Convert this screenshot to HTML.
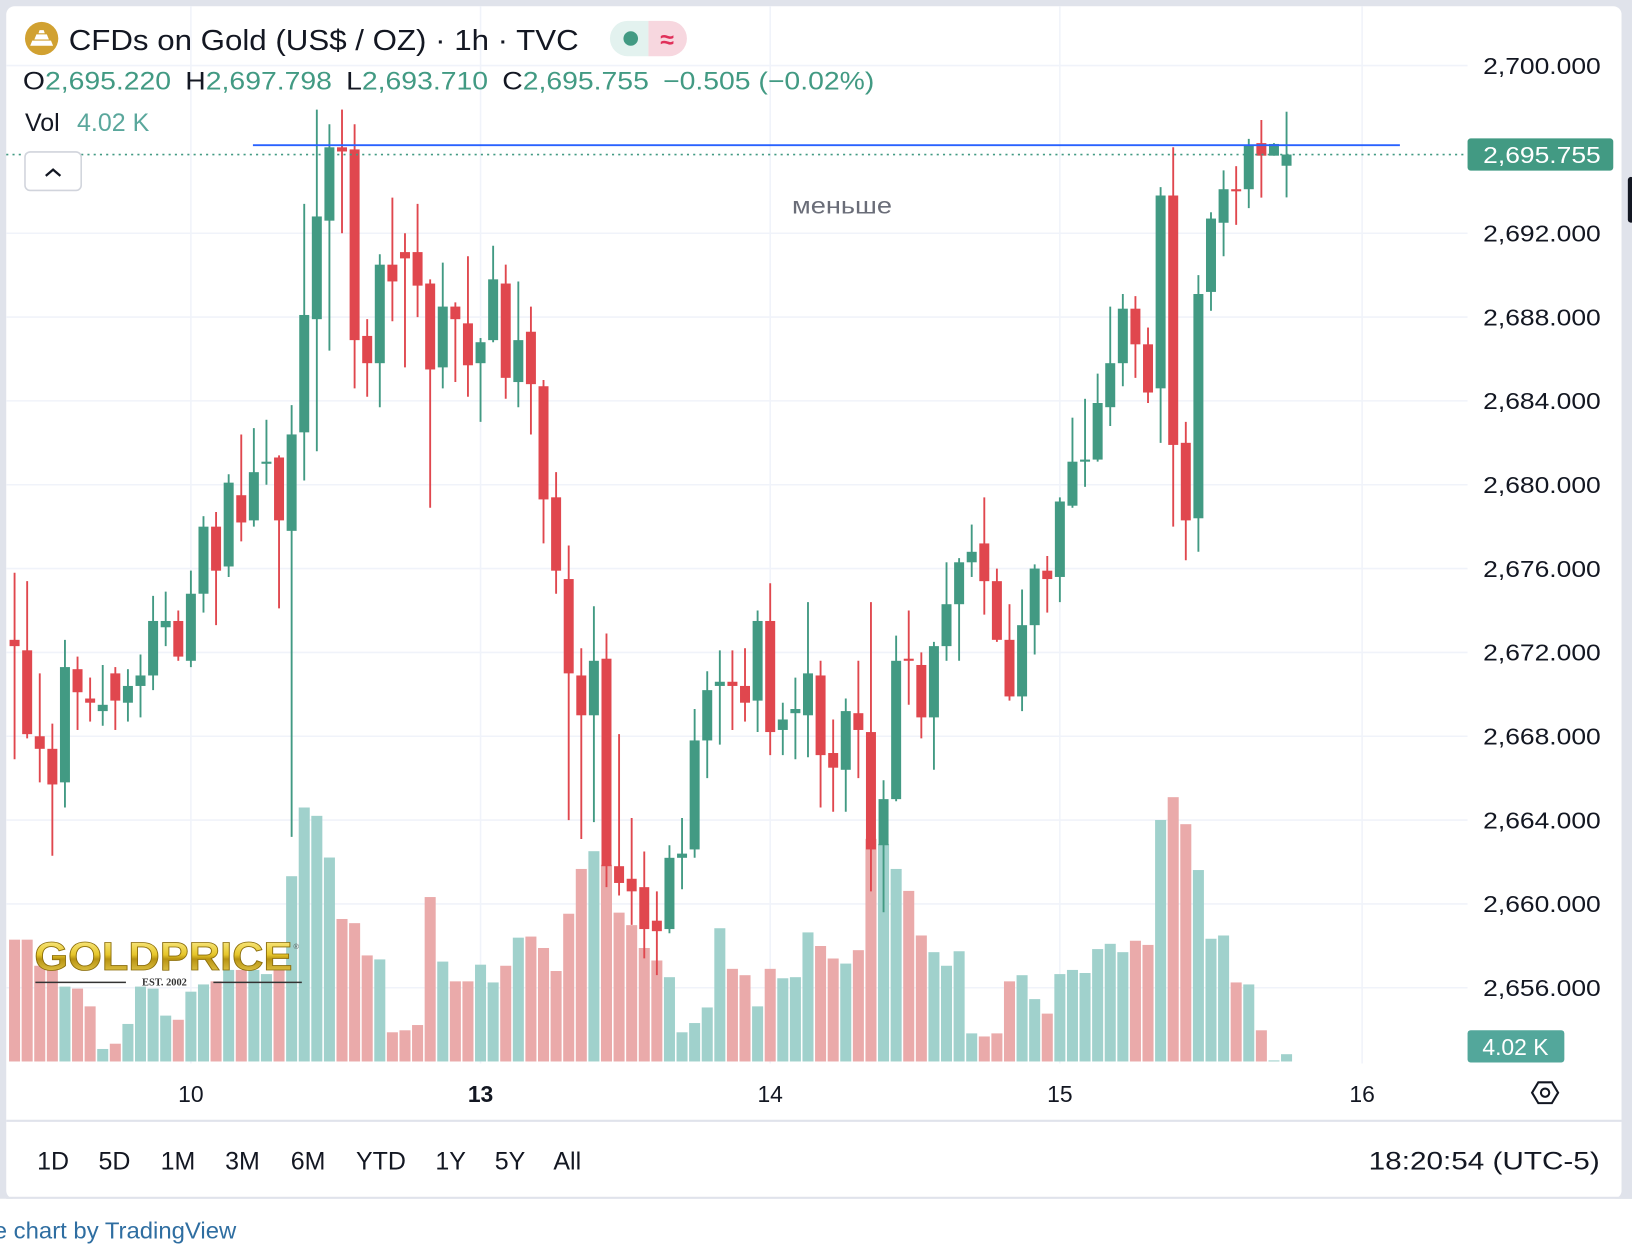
<!DOCTYPE html>
<html><head><meta charset="utf-8">
<style>
html,body{margin:0;padding:0;background:#fff;width:1632px;height:1254px;overflow:hidden}
svg{display:block;font-family:"Liberation Sans",sans-serif}
</style></head><body>
<svg id="chart" width="1632" height="1254" viewBox="0 0 1568 1205" preserveAspectRatio="none" xmlns="http://www.w3.org/2000/svg">
<defs>
<linearGradient id="gold" x1="0" y1="0" x2="0" y2="1">
<stop offset="0" stop-color="#fff3a0"/><stop offset="0.45" stop-color="#e6c62a"/><stop offset="0.55" stop-color="#b89312"/><stop offset="1" stop-color="#f3dc60"/>
</linearGradient>
</defs>
<rect x="0" y="0" width="1568" height="1152" fill="#e0e3eb"/>
<rect x="0" y="1152" width="1568" height="53" fill="#ffffff"/>
<rect x="6" y="6" width="1552" height="1146" rx="8" fill="#ffffff"/>
<g id="grid"></g>
<g id="vols"></g>
<g id="candles"></g>
<g id="overlay"></g>

<!-- header -->
<circle cx="40" cy="37" r="16" fill="#d1a131"/>
<path d="M29 44h22l-2-5h-18zM33 38h14l-2-5h-10zM37 32h6l-1-3h-4z" fill="#fff"/>
<text x="66" y="48" font-size="28" fill="#131722" textLength="490" lengthAdjust="spacingAndGlyphs">CFDs on Gold (US$ / OZ) · 1h · TVC</text>
<g>
<path d="M603 20h20v34h-20a17 17 0 0 1 0-34z" fill="#e3f2ef"/>
<path d="M623 20h20a17 17 0 0 1 0 34h-20z" fill="#f7d7df"/>
<circle cx="606" cy="37" r="7" fill="#429a83"/>
<text x="641" y="46" font-size="24" fill="#e0305a" text-anchor="middle" font-weight="bold">≈</text>
</g>
<text x="22" y="86" font-size="24" textLength="818" lengthAdjust="spacingAndGlyphs"><tspan fill="#131722">O</tspan><tspan fill="#429a83">2,695.220</tspan><tspan dx="12" fill="#131722">H</tspan><tspan fill="#429a83">2,697.798</tspan><tspan dx="12" fill="#131722">L</tspan><tspan fill="#429a83">2,693.710</tspan><tspan dx="12" fill="#131722">C</tspan><tspan fill="#429a83">2,695.755</tspan><tspan dx="12" fill="#429a83">−0.505 (−0.02%)</tspan></text>
<text x="24" y="126" font-size="24" fill="#131722">Vol <tspan dx="10" fill="#5aa79c">4.02 K</tspan></text>
<g>
<rect x="24" y="146" width="54" height="37" rx="5" fill="#fff" stroke="#d1d4dc" stroke-width="1.5"/>
<path d="M44 169l7-6 7 6" fill="none" stroke="#131722" stroke-width="2.2"/>
</g>
<text x="761" y="205" font-size="22" fill="#6a6d78" textLength="96" lengthAdjust="spacingAndGlyphs">меньше</text>

<!-- logo -->
<g>
<text x="33" y="932" font-size="38" font-weight="bold" fill="url(#gold)" stroke="#8a6d0a" stroke-width="0.8" textLength="248" lengthAdjust="spacingAndGlyphs">GOLDPRICE</text>
<text x="282" y="912" font-size="7" fill="#555">®</text>
<line x1="34" y1="944" x2="121" y2="944" stroke="#333" stroke-width="1.5"/>
<line x1="205" y1="944" x2="290" y2="944" stroke="#333" stroke-width="1.5"/>
<text x="158" y="947" font-size="10" font-family="Liberation Serif,serif" font-weight="bold" fill="#333" text-anchor="middle">EST. 2002</text>
</g>

<!-- axes labels -->
<g id="yaxis"></g>
<g id="xaxis"></g>
<g>
<rect x="1410" y="990" width="93" height="31" rx="3" fill="#53a79b"/>
<text x="1456" y="1014" font-size="22" fill="#fff" text-anchor="middle">4.02 K</text>
</g>
<g>
<path d="M1472 1050l6-10h13l6 10-6 10h-13z" fill="none" stroke="#131722" stroke-width="2"/>
<circle cx="1484.5" cy="1050" r="4" fill="none" stroke="#131722" stroke-width="2"/>
</g>
<line x1="6" y1="1077" x2="1558" y2="1077" stroke="#e0e3eb" stroke-width="2"/>
<g font-size="24" fill="#131722">
<text x="51" y="1124" text-anchor="middle">1D</text>
<text x="110" y="1124" text-anchor="middle">5D</text>
<text x="171" y="1124" text-anchor="middle">1M</text>
<text x="233" y="1124" text-anchor="middle">3M</text>
<text x="296" y="1124" text-anchor="middle">6M</text>
<text x="366" y="1124" text-anchor="middle">YTD</text>
<text x="433" y="1124" text-anchor="middle">1Y</text>
<text x="490" y="1124" text-anchor="middle">5Y</text>
<text x="545" y="1124" text-anchor="middle">All</text>
</g>
<text x="1315" y="1124" font-size="24" fill="#131722" textLength="222" lengthAdjust="spacingAndGlyphs">18:20:54 (UTC-5)</text>
<rect x="1558" y="0" width="10" height="1152" fill="#e0e3eb"/>
<rect x="1564" y="170" width="6" height="44" rx="3" fill="#131722"/>
<rect x="6" y="1150" width="1552" height="2" fill="#e0e3eb"/>
<text x="-6" y="1190" font-size="22" fill="#2f6ea1" textLength="233" lengthAdjust="spacingAndGlyphs">e chart by TradingView</text>
</svg>
<script>
const opens=[2672.6,2672.1,2668.0,2667.4,2665.8,2671.2,2669.8,2669.2,2671.0,2669.6,2670.4,2670.9,2673.2,2673.5,2671.6,2674.8,2678.0,2676.1,2679.5,2678.3,2681.0,2681.3,2677.8,2682.5,2687.9,2692.6,2696.1,2696.0,2687.1,2685.8,2690.5,2691.1,2691.1,2689.6,2685.6,2688.5,2687.7,2685.8,2686.9,2689.6,2684.9,2687.3,2684.7,2679.4,2675.5,2670.9,2669.0,2671.7,2661.8,2661.2,2660.8,2659.2,2658.8,2662.2,2662.6,2667.8,2670.4,2670.6,2670.4,2669.7,2673.5,2668.3,2669.1,2669.0,2670.9,2667.2,2666.4,2669.1,2668.2,2662.8,2665.0,2671.7,2671.4,2668.9,2672.3,2674.3,2676.3,2677.2,2675.4,2672.6,2669.9,2673.3,2675.9,2675.6,2679.0,2681.1,2681.2,2683.7,2685.8,2688.4,2686.7,2684.6,2693.8,2682.0,2678.4,2689.2,2692.5,2694.1,2694.1,2696.3,2695.7,2695.22];
const highs=[2675.8,2675.4,2671.0,2668.6,2672.6,2671.8,2670.8,2671.4,2671.3,2671.2,2671.9,2674.7,2674.9,2674.0,2675.9,2678.5,2678.7,2680.5,2682.4,2682.7,2683.1,2681.4,2683.8,2693.4,2697.9,2697.2,2697.9,2697.2,2687.9,2691.0,2693.7,2692.0,2693.4,2689.8,2690.6,2688.7,2690.9,2687.0,2691.4,2690.5,2689.7,2688.5,2685.0,2680.6,2677.1,2672.2,2674.2,2672.9,2668.1,2664.1,2662.5,2660.6,2662.8,2664.1,2669.3,2671.1,2672.1,2672.1,2672.2,2674.0,2675.3,2669.6,2670.8,2674.4,2671.6,2668.8,2669.8,2671.6,2674.4,2665.9,2672.8,2674.0,2672.0,2672.5,2676.3,2676.5,2678.1,2679.4,2676.0,2674.3,2675.0,2676.2,2676.6,2679.4,2683.2,2684.1,2685.3,2688.5,2689.1,2689.0,2687.5,2694.2,2696.1,2683.0,2690.0,2693.0,2695.0,2695.2,2696.5,2697.4,2696.3,2697.798];
const lows=[2666.9,2667.9,2665.8,2662.3,2664.6,2668.3,2668.7,2668.5,2668.3,2668.7,2668.9,2670.2,2672.3,2671.6,2671.3,2673.9,2673.3,2675.6,2677.3,2678.0,2680.0,2674.1,2663.2,2680.2,2681.6,2686.4,2692.0,2684.6,2684.2,2683.7,2687.8,2685.6,2688.0,2678.9,2684.6,2684.9,2684.2,2683.0,2686.8,2684.1,2683.7,2682.4,2677.2,2674.8,2664.0,2663.1,2663.9,2660.8,2660.4,2659.0,2657.4,2656.6,2658.6,2660.7,2662.2,2666.0,2667.6,2668.3,2668.7,2668.2,2667.1,2667.1,2666.9,2667.0,2664.6,2664.4,2664.4,2666.0,2660.6,2659.6,2664.9,2669.5,2667.9,2666.4,2671.6,2671.6,2675.6,2673.8,2672.5,2669.7,2669.2,2671.9,2673.9,2674.4,2678.9,2679.9,2681.1,2682.8,2684.7,2685.1,2683.9,2682.0,2678.0,2676.4,2676.8,2688.3,2690.9,2692.4,2693.2,2693.7,2695.7,2693.71];
const closes=[2672.3,2668.1,2667.4,2665.7,2671.3,2670.1,2669.6,2669.5,2669.7,2670.4,2670.9,2673.5,2673.5,2671.8,2674.8,2678.0,2675.9,2680.1,2678.2,2680.6,2681.1,2678.3,2682.4,2688.1,2692.8,2696.1,2695.9,2686.9,2685.8,2690.5,2689.7,2690.8,2689.5,2685.5,2688.5,2687.9,2685.7,2686.8,2689.8,2685.1,2686.9,2684.8,2679.3,2675.9,2671.0,2669.0,2671.6,2661.8,2661.0,2660.6,2658.8,2658.7,2662.2,2662.4,2667.8,2670.2,2670.6,2670.4,2669.6,2673.5,2668.2,2668.8,2669.3,2671.0,2667.1,2666.5,2669.2,2668.3,2662.6,2665.0,2671.6,2671.6,2668.9,2672.3,2674.3,2676.3,2676.8,2675.4,2672.6,2669.9,2673.3,2676.0,2675.5,2679.2,2681.1,2681.2,2683.9,2685.8,2688.4,2686.7,2684.4,2693.8,2681.9,2678.3,2689.1,2692.7,2694.1,2694.0,2696.2,2695.7,2696.26,2695.755];
const volumes=[67.2,67.2,52.8,51.1,41.3,40.2,30.4,6.9,9.8,20.7,41.3,40.2,25.3,23.0,38.5,42.5,44.2,50.5,50.5,50.5,48.2,51.1,102.2,140.1,135.5,112.5,78.6,76.3,58.5,56.3,16.1,17.2,20.1,90.7,55.1,44.2,44.2,53.4,43.6,52.8,68.3,68.9,62.6,49.9,81.5,106.2,116.0,108.5,82.1,75.2,62.6,55.7,46.5,16.1,21.2,29.8,73.5,51.1,47.6,30.4,51.1,45.9,46.5,71.2,63.7,56.8,54.0,61.4,122.8,120.0,106.2,94.1,69.5,60.3,52.8,60.8,15.5,13.8,15.5,44.2,47.6,34.4,26.4,48.2,50.5,48.8,62.0,64.9,60.3,66.6,64.3,133.2,145.8,130.9,105.6,67.7,69.5,43.6,42.5,17.2,0.6,4.02];
const priceTicks=[2700,2692,2688,2684,2680,2676,2672,2668,2664,2660,2656];
const priceTickLabels=["2,700.000","2,692.000","2,688.000","2,684.000","2,680.000","2,676.000","2,672.000","2,668.000","2,664.000","2,660.000","2,656.000"];
const dayIndex=[14,37,60,83,107];
const dayLabels=["10","13","14","15","16"];
const lastPrice=2695.755;
const lastPriceLabel="2,695.755";
const hlinePrice=2696.2;

const NS="http://www.w3.org/2000/svg";
const xOf=i=>14+i*12.1;
const yOf=p=>63+(2700-p)*20.14;
const VBASE=1020, VPX=1.742;
const vY=v=>VBASE-v*VPX;
function mk(tag,attrs,parent){const e=document.createElementNS(NS,tag);for(const k in attrs)e.setAttribute(k,attrs[k]);parent.appendChild(e);return e;}
const grid=document.getElementById('grid'),vg=document.getElementById('vols'),cg=document.getElementById('candles'),ov=document.getElementById('overlay'),ya=document.getElementById('yaxis'),xa=document.getElementById('xaxis');
priceTicks.forEach((p,k)=>{
  const l=mk('line',{x1:6,x2:1410,y1:yOf(p),y2:yOf(p),stroke:'#f0f3fa','stroke-width':1.5},grid);
  
  
  const t=mk('text',{x:1425,y:yOf(p)+8,'font-size':22,fill:'#131722',textLength:113,lengthAdjust:'spacingAndGlyphs'},ya);
  t.textContent=priceTickLabels[k];
  
  
});
dayIndex.forEach((d,k)=>{
  const x=xOf(d);
  const l=mk('line',{x1:x,x2:x,y1:6,y2:1022,stroke:'#f0f3fa','stroke-width':1.5},grid);
  
  
  const t=mk('text',{x:x,y:1059,'font-size':22,fill:'#131722','text-anchor':'middle','font-weight':dayLabels[k]==='13'?'bold':'normal'},xa);
  t.textContent=dayLabels[k];
  
  
});
volumes.forEach((v,i)=>{
  const up=closes[i]>=opens[i];
  const r=mk('rect',{x:xOf(i)-5.3,y:vY(v),width:10.6,height:Math.max(0.8,VBASE-vY(v)),fill:up?'#a0d1cc':'#eaaaaa'},vg);
  
  
});
opens.forEach((o,i)=>{
  const c=closes[i],up=c>=o,col=up?'#429a83':'#e0474e',x=xOf(i);
  const g=mk('g',{},cg);
  
  
  mk('line',{x1:x,x2:x,y1:yOf(highs[i]),y2:yOf(lows[i]),stroke:col,'stroke-width':1.8},g);
  const t=yOf(Math.max(o,c)),b=yOf(Math.min(o,c));
  mk('rect',{x:x-4.8,y:t,width:9.6,height:Math.max(1.8,b-t),fill:col},g);
});
const hl=mk('line',{x1:243,x2:1345,y1:yOf(hlinePrice),y2:yOf(hlinePrice),stroke:'#2962ff','stroke-width':1.8},ov);


const pl=mk('line',{x1:6,x2:1410,y1:yOf(lastPrice),y2:yOf(lastPrice),stroke:'#429a83','stroke-width':1.5,'stroke-dasharray':'2 4'},ov);


const pb=mk('rect',{x:1410,y:yOf(lastPrice)-15.5,width:140,height:31,rx:3,fill:'#429a83'},ov);


const pt=mk('text',{x:1425,y:yOf(lastPrice)+8,'font-size':22,fill:'#fff',textLength:113,lengthAdjust:'spacingAndGlyphs'},ov);
pt.textContent=lastPriceLabel;


</script>
</body></html>
